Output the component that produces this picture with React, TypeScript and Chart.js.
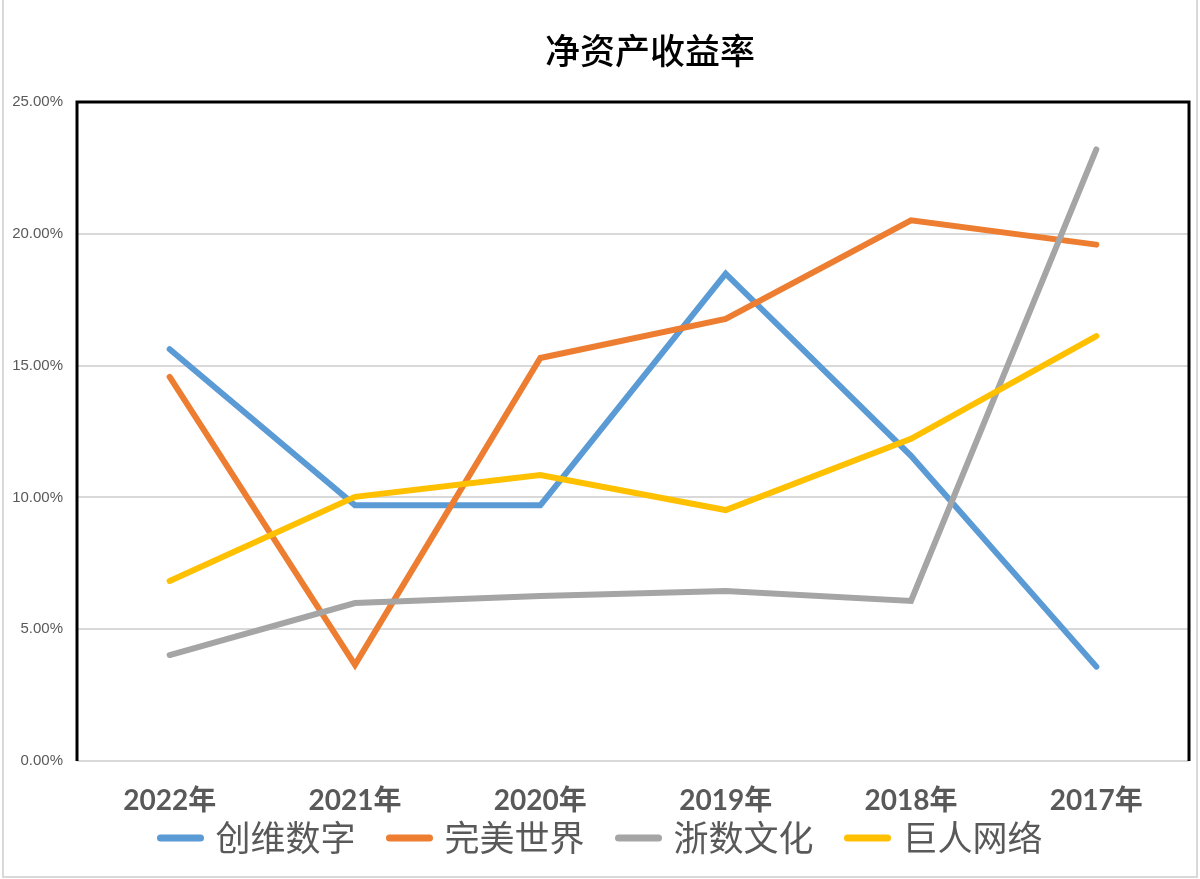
import React, { useEffect, useRef } from "react";
import { Chart, registerables } from "chart.js";

Chart.register(...registerables);

const TITLE = "净资产收益率";
const CATEGORIES = ["2022年", "2021年", "2020年", "2019年", "2018年", "2017年"];
const SERIES_NAMES = ["创维数字", "完美世界", "浙数文化", "巨人网络"];
const SERIES_COLORS = ["#5B9BD5", "#ED7D31", "#A5A5A5", "#FFC000"];
const CHUANGWEI = [15.62, 9.7, 9.7, 18.49, 11.58, 3.58];
const WANMEI = [14.57, 3.65, 15.29, 16.77, 20.51, 19.59];
const ZHESHU = [4.02, 5.99, 6.26, 6.45, 6.07, 23.2];
const JUREN = [6.83, 10.02, 10.85, 9.52, 12.22, 16.12];
const Y_MIN = 0;
const Y_MAX = 25;
const Y_STEP = 5;

const SERIES_VALUES = [CHUANGWEI, WANMEI, ZHESHU, JUREN];

const LEGEND_FONT = "35px 'Noto Sans CJK SC', sans-serif";

const decorPlugin = {
  id: "decor",
  afterDraw(chart: any) {
    const { ctx, chartArea } = chart;
    const { left, top, right, bottom } = chartArea;
    ctx.save();
    // plot area border (left, top, right)
    ctx.strokeStyle = "#000000";
    ctx.lineWidth = 3;
    ctx.lineCap = "butt";
    ctx.beginPath();
    ctx.moveTo(left, bottom);
    ctx.lineTo(left, top);
    ctx.lineTo(right, top);
    ctx.lineTo(right, bottom);
    ctx.stroke();

    // outer chart border
    ctx.strokeStyle = "#D9D9D9";
    ctx.lineWidth = 2;
    ctx.beginPath();
    ctx.moveTo(3, 0);
    ctx.lineTo(3, 877);
    ctx.lineTo(1197, 877);
    ctx.lineTo(1197, 0);
    ctx.stroke();

    // title
    ctx.fillStyle = "#000000";
    ctx.font = "500 35px 'Noto Sans CJK SC', serif";
    ctx.textAlign = "center";
    ctx.textBaseline = "middle";
    ctx.fillText(TITLE, 650, 51);

    // legend
    ctx.font = LEGEND_FONT;
    const marker = 46;
    const gapText = 12;
    const gapItem = 31;
    const items = chart.data.datasets.map((ds: any) => ({
      label: ds.label,
      color: ds.borderColor,
      w: ctx.measureText(ds.label).width,
    }));
    const total =
      items.reduce((s: number, it: any) => s + marker + gapText + it.w, 0) +
      gapItem * (items.length - 1);
    let x = 600 - total / 2;
    const y = 838;
    ctx.textAlign = "left";
    ctx.textBaseline = "middle";
    items.forEach((it: any) => {
      ctx.strokeStyle = it.color;
      ctx.lineWidth = 7;
      ctx.lineCap = "round";
      ctx.beginPath();
      ctx.moveTo(x + 3, y);
      ctx.lineTo(x + marker - 3, y);
      ctx.stroke();
      ctx.fillStyle = "#595959";
      ctx.fillText(it.label, x + marker + gapText, y);
      x += marker + gapText + it.w + gapItem;
    });
    ctx.restore();
  },
};

export default function App() {
  const ref = useRef<HTMLCanvasElement | null>(null);
  useEffect(() => {
    if (!ref.current) return;
    const chart = new Chart(ref.current, {
      type: "line",
      data: {
        labels: CATEGORIES,
        datasets: SERIES_NAMES.map((name, i) => ({
          label: name,
          data: SERIES_VALUES[i],
          borderColor: SERIES_COLORS[i],
          backgroundColor: SERIES_COLORS[i],
          borderWidth: 6,
          borderCapStyle: "round" as const,
          borderJoinStyle: "miter" as const,
          pointRadius: 0,
          tension: 0,
          fill: false,
          order: SERIES_NAMES.length - 1 - i,
        })),
      },
      options: {
        responsive: false,
        animation: false,
        layout: { padding: { top: 102, left: 0, right: 11, bottom: 0 } },
        plugins: {
          legend: { display: false },
          title: { display: false },
          tooltip: { enabled: false },
        },
        scales: {
          x: {
            offset: true,
            grid: { display: false, drawTicks: false },
            border: { display: false },
            ticks: {
              padding: 23,
              color: "#595959",
              font: { size: 28, weight: "bold", family: "Lato, 'Noto Sans CJK SC', sans-serif" },
              maxRotation: 0,
            },
            afterFit(scale: any) {
              scale.height = 118;
            },
          },
          y: {
            min: Y_MIN,
            max: Y_MAX,
            grid: { color: "#D9D9D9", lineWidth: 2, drawTicks: false },
            border: { display: false },
            ticks: {
              stepSize: Y_STEP,
              padding: 14,
              color: "#595959",
              font: { size: 15, family: "'Liberation Sans', sans-serif" },
              callback: (v: any) => Number(v).toFixed(2) + "%",
            },
            afterFit(scale: any) {
              scale.width = 77;
            },
          },
        },
      },
      plugins: [decorPlugin],
    });
    return () => chart.destroy();
  }, []);
  return (
    <div style={{ position: "absolute", left: 0, top: 0, width: 1200, height: 879, background: "#ffffff" }}>
      <canvas ref={ref} width={1200} height={879} />
    </div>
  );
}
